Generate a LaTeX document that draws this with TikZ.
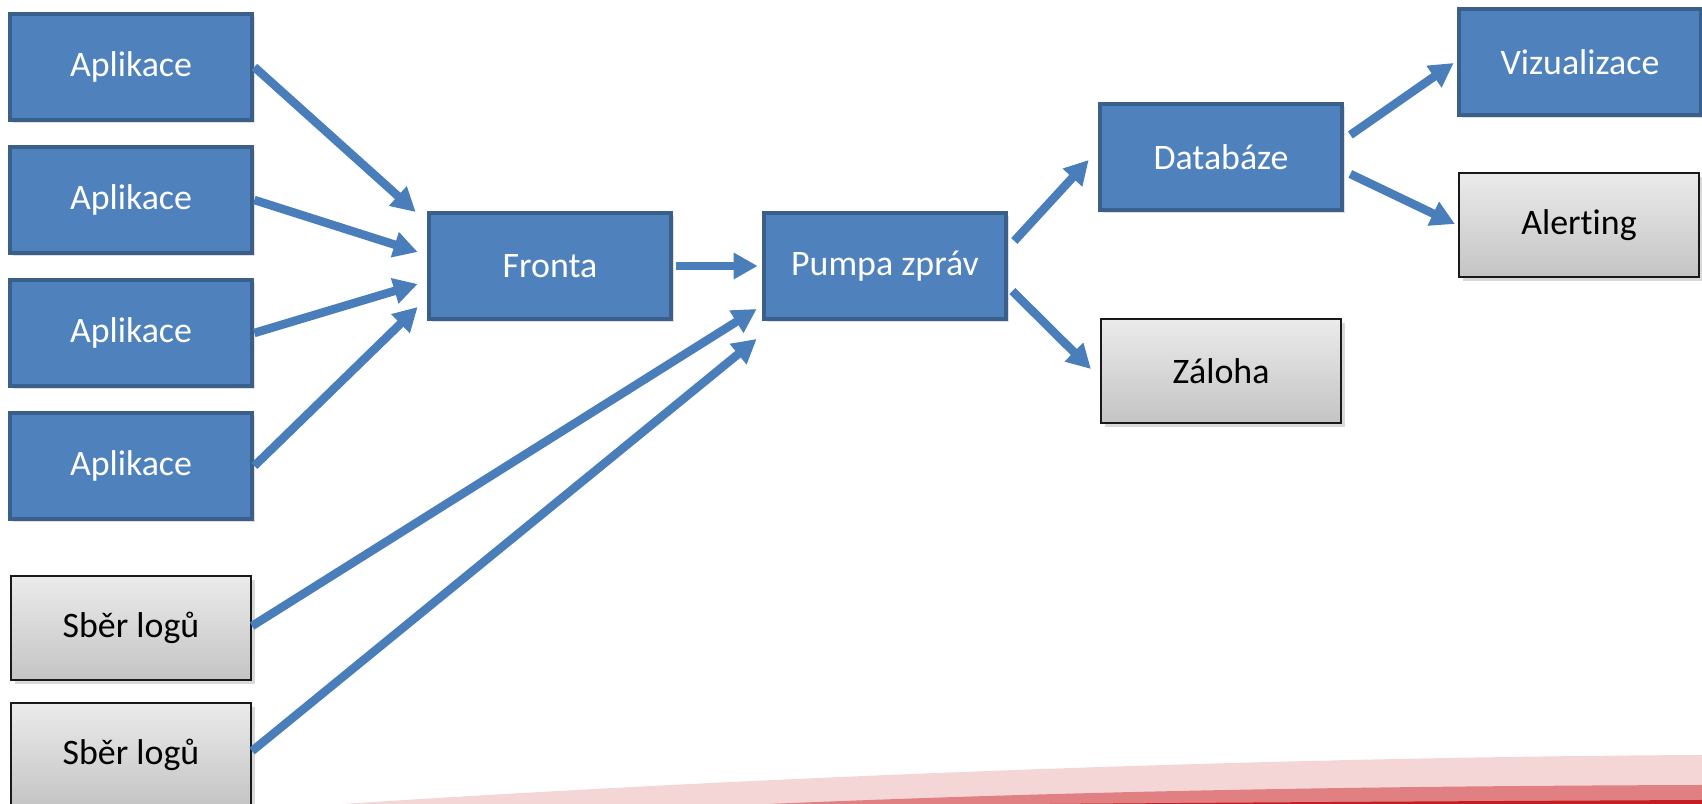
\documentclass[tikz,border=0pt]{standalone}
\usepackage{fontspec}
\setmainfont[Ligatures=NoCommon]{Carlito}
\usepackage{tikz}
\usepackage{xcolor}
\usetikzlibrary{shapes,arrows.meta,positioning,calc,shadows}

\definecolor{boxblue}{HTML}{4F81BD}
\definecolor{boxedge}{HTML}{3A5F8B}
\definecolor{arrowblue}{HTML}{4A7EBB}
\definecolor{greytop}{HTML}{EBEBEB}
\definecolor{greybot}{HTML}{C4C4C4}
\definecolor{swooshlight}{HTML}{F5D6D7}
\definecolor{swooshmid}{HTML}{E18082}
\definecolor{swooshdark}{HTML}{C41E24}

\begin{document}
\begin{tikzpicture}[
    x=0.01cm, y=-0.01cm,
    app/.style={rectangle, draw=boxedge, line width=0.045cm, fill=boxblue, text=white, minimum width=2.42cm, minimum height=1.06cm, inner sep=0pt, font=\fontsize{10.2}{12}\selectfont, drop shadow={shadow xshift=0.03cm, shadow yshift=-0.03cm, opacity=0.25}},
    aux/.style={rectangle, draw=black!90, line width=0.02cm, top color=greytop, bottom color=greybot, text=black, minimum width=2.4cm, minimum height=1.04cm, inner sep=0pt, font=\fontsize{10.2}{12}\selectfont, drop shadow={shadow xshift=0.04cm, shadow yshift=-0.04cm, opacity=0.3}},
    arrow/.style={-{Triangle[length=0.24cm, width=0.25cm]}, line width=0.085cm, draw=arrowblue}
]
\useasboundingbox (0,0) rectangle (1702,804);

% Swoosh at the bottom
\fill[swooshlight] (343,804) .. controls (800,774) and (1300,757) .. (1702,755) -- (1702,804) -- cycle;
\fill[swooshmid] (769,804) .. controls (1100,790) and (1400,786) .. (1702,785) -- (1702,804) -- cycle;
\fill[swooshdark] (1050,804) .. controls (1300,802) and (1500,801) .. (1702,800) -- (1702,804) -- cycle;

% Sources
\node[app] (app1) at (131,67) {Aplikace};
\node[app] (app2) at (131,200) {Aplikace};
\node[app] (app3) at (131,333) {Aplikace};
\node[app] (app4) at (131,466) {Aplikace};
\node[aux] (sber1) at (131,628) {Sběr logů};
\node[aux] (sber2) at (131,755) {Sběr logů};

% Queue and pump
\node[app] (fronta) at (550,266) {Fronta};
\node[app] (pumpa) at (885,266) {Pumpa zpráv};

% Targets
\node[app] (databaze) at (1221,157) {Databáze};
\node[aux] (zaloha) at (1221,371) {Záloha};
\node[app] (vizualizace) at (1580,62) {Vizualizace};
\node[aux] (alerting) at (1579,225) {Alerting};

% Into the queue
\draw[arrow] (app1.east) -- ($(fronta.west)+(-11,-54)$);
\draw[arrow] (app2.east) -- ($(fronta.west)+(-9,-14)$);
\draw[arrow] (app3.east) -- ($(fronta.west)+(-9,18)$);
\draw[arrow] (app4.east) -- ($(fronta.west)+(-9,41)$);

% Into the pump
\draw[arrow] ($(fronta.east)+(3,0)$) -- ($(pumpa.west)+(-4,0)$);
\draw[arrow] ($(sber1.east)+(0,-2)$) -- ($(pumpa.west)+(-5,43)$);
\draw[arrow] ($(sber2.east)+(0,-4)$) -- ($(pumpa.west)+(-5,73)$);

% Out of the pump
\draw[arrow] ($(pumpa.east)+(6,-25)$) -- ($(databaze.west)+(-9,3)$);
\draw[arrow] ($(pumpa.east)+(4,25)$) -- ($(zaloha.west)+(-9,-2)$);

% Out of the database
\draw[arrow] ($(databaze.east)+(6,-22)$) -- ($(vizualizace.west)+(-3,1)$);
\draw[arrow] ($(databaze.east)+(6,17)$) -- ($(alerting.west)+(-3,-1)$);

\end{tikzpicture}
\end{document}
